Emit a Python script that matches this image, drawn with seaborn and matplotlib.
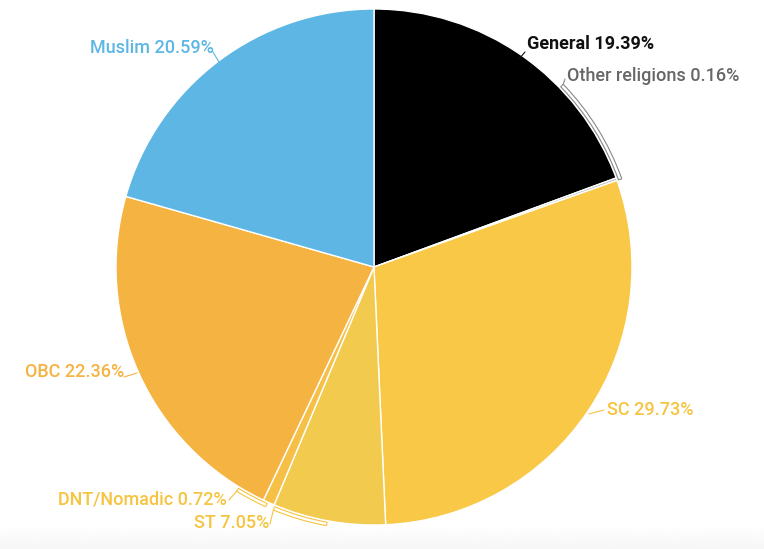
import matplotlib
matplotlib.use('Agg')

import numpy as np
import matplotlib.pyplot as plt
import seaborn as sns
from matplotlib.patches import Wedge

sns.set_theme(style="white")
plt.rcParams['font.family'] = ['Roboto', 'DejaVu Sans']

# Daten
labels = ['General', 'Other religions', 'SC', 'ST', 'DNT/Nomadic', 'OBC', 'Muslim']
shares = [19.39, 0.16, 29.73, 7.05, 0.72, 22.36, 20.59]
colors = ['#000000', '#bdbdbd', '#f8c846', '#f2cb4e', '#f6c047', '#f5b342', '#5db6e4']
label_colors = ['#111111', '#666666', '#f5c440', '#f5c440', '#f5c440', '#f5b342', '#5db6e4']

# Position der Beschriftungen (Pixel, y von unten)
label_xy = [(527, 505), (567, 473), (607, 139), (194, 26), (58, 49), (25, 177), (90, 501)]
# Anknüpfungspunkte der Verbindungslinien
line_pts = [[(525, 497), (519, 490)], None, [(604, 139), (589, 135)], None, None,
            [(124, 172), (137, 176)], [(213, 497), (219, 487)]]

W, H = 764, 549
cx, cy, R = 374, 282, 258

fig = plt.figure(figsize=(W / 100, H / 100), dpi=100)
ax = fig.add_axes([0, 0, 1, 1])

# leichter grauer Verlauf unten
grad = np.linspace(1.0, 0.965, 50).reshape(-1, 1)
ax.imshow(grad, extent=[0, W, 0, 24], cmap='gray', vmin=0, vmax=1, aspect='auto', zorder=0)

wedges, _ = ax.pie(shares, colors=colors, startangle=90, counterclock=False,
                   center=(cx, cy), radius=R, frame=True,
                   wedgeprops=dict(edgecolor='white', linewidth=1))
ax.set_xlim(0, W)
ax.set_ylim(0, H)
ax.set_aspect('equal')
ax.axis('off')

# Klammern für kleine Segmente (Winkel im Uhrzeigersinn ab 12 Uhr)
brackets = [(46, 70.4, '#888888'), (204.3, 211.5, '#f5c440'), (190.4, 202.5, '#f5c440')]
for a0, a1, col in brackets:
    ax.add_patch(Wedge((cx, cy), R + 5, 90 - a1, 90 - a0, width=3.5, facecolor='white',
                       edgecolor=col, linewidth=0.8, zorder=3))

def polar(a, r):
    t = np.deg2rad(90 - a)
    return cx + r * np.cos(t), cy + r * np.sin(t)

# Verbindungslinien für Other religions / DNT / ST
x0, y0 = polar(46, R + 5)
ax.plot([x0, 565], [y0, 470], color='#888888', lw=0.8)
x0, y0 = polar(211.5, R + 5)
ax.plot([x0, 229], [y0, 49], color='#f5c440', lw=0.8)
x0, y0 = polar(202.5, R + 5)
ax.plot([x0, 270], [y0, 25], color='#f5c440', lw=0.8)

for i, lab in enumerate(labels):
    x, y = label_xy[i]
    w = 'bold' if i == 0 else 'medium'
    ax.text(x, y, f'{lab} {shares[i]:.2f}%', color=label_colors[i], fontsize=13,
            fontweight=w, ha='left', va='center')
    if line_pts[i] is not None:
        (xa, ya), (xb, yb) = line_pts[i]
        ax.plot([xa, xb], [ya, yb], color=label_colors[i], lw=0.8)

fig.savefig('out.png', dpi=100)
